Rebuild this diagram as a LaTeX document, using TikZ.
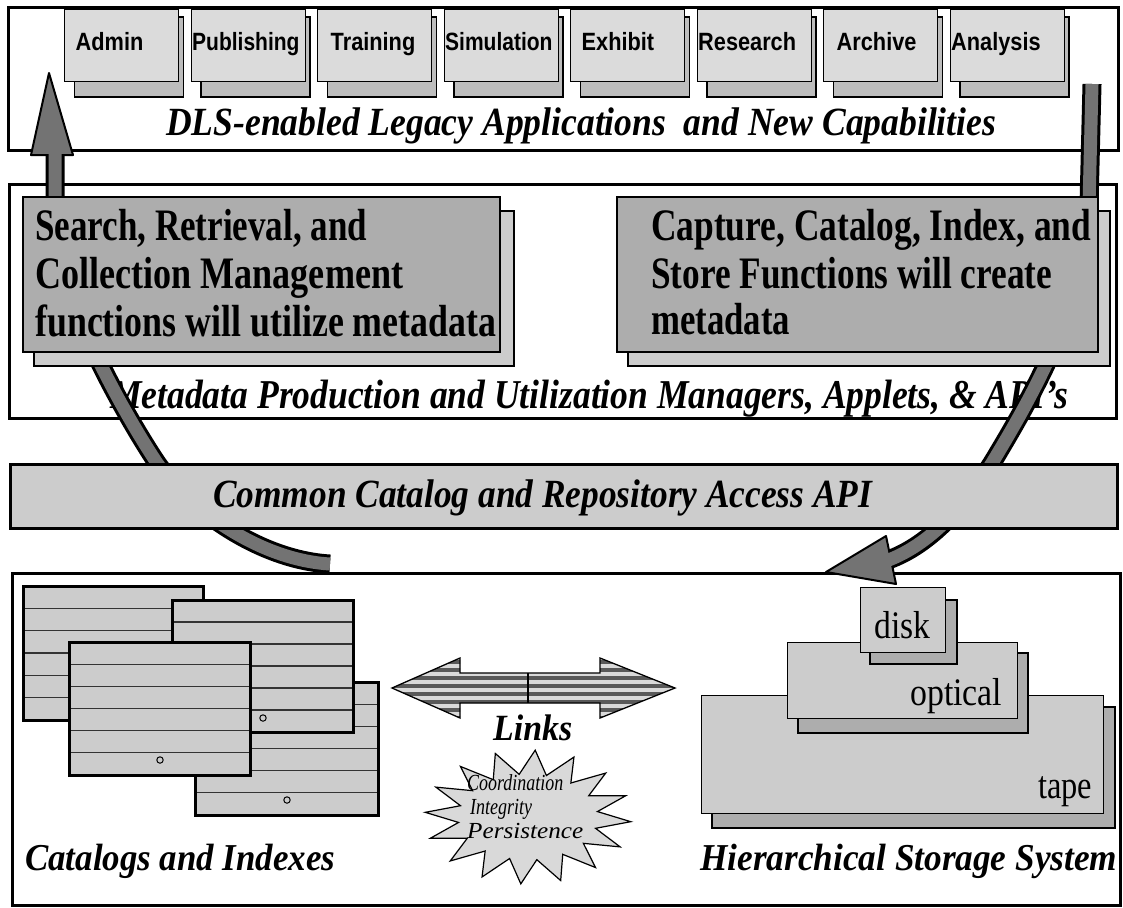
\documentclass[tikz,border=0pt]{standalone}
\usepackage{graphicx}
\usepackage{fontspec}
\setmainfont{Liberation Serif}
\newfontfamily\tabfont{Liberation Sans}
\usetikzlibrary{calc}

% stretch a piece of text to a given width, keeping its height
\newcommand\fitw[2]{\resizebox{#1}{\height}{#2}}
\newcommand\sx[2]{\scalebox{#1}[1]{#2}}

\definecolor{tabfill}{gray}{0.86}
\definecolor{tabshade}{gray}{0.74}
\definecolor{boxfill}{gray}{0.68}
\definecolor{boxshade}{gray}{0.80}
\definecolor{apifill}{gray}{0.80}
\definecolor{cardfill}{gray}{0.80}
\definecolor{storefill}{gray}{0.80}
\definecolor{storeshade}{gray}{0.68}
\definecolor{bandgray}{gray}{0.45}
\definecolor{burstfill}{gray}{0.85}
\definecolor{linklight}{gray}{0.85}
\definecolor{linkstripe}{gray}{0.35}

\begin{document}
\begin{tikzpicture}[x=1pt,y=-1pt,
  frame/.style={draw=black, line width=3pt},
  tabshadow/.style={draw=black, line width=1.8pt, fill=tabshade},
  tabfront/.style={draw=black, line width=1pt, fill=tabfill},
  tablabel/.style={anchor=base west, inner sep=0pt,
    font=\fontsize{25}{27}\selectfont\tabfont\bfseries},
  titletext/.style={anchor=base west, inner sep=0pt,
    font=\fontsize{40}{42}\selectfont\bfseries\itshape},
  boxtext/.style={anchor=base west, inner sep=0pt,
    font=\fontsize{45}{48}\selectfont\bfseries},
  mediatext/.style={anchor=base west, inner sep=0pt,
    font=\fontsize{39}{41}\selectfont},
  bursttext/.style={anchor=base west, inner sep=0pt,
    font=\fontsize{23}{24}\selectfont\itshape},
  funcshadow/.style={draw=black, line width=1.5pt, fill=boxshade},
  funcbox/.style={draw=black, line width=1.5pt, fill=boxfill},
  cardbox/.style={fill=cardfill},
  cardedge/.style={draw=black, line width=3pt},
  rowline/.style={draw=black!80, line width=1.2pt},
  storeshadow/.style={draw=black, line width=1.8pt, fill=storeshade},
  storebox/.style={draw=black, line width=1pt, fill=storefill},
]
\useasboundingbox (0,0) rectangle (1123,907);
\fill[white] (0,0) rectangle (1123,907);

% ---------- application layer ----------
\fill[white] (8,8) rectangle (1118,150);
\foreach \name/\lbl/\dx/\sc [count=\i from 0] in
  {admin/Admin/11/0.87, pub/Publishing/1/0.84, train/Training/13/0.87, sim/Simulation/1/0.84,
   exhibit/Exhibit/11/0.87, research/Research/1/0.87, archive/Archive/13/0.87, analysis/Analysis/1/0.87}
{
  \pgfmathsetmacro\L{64.5+126.5*\i}
  \path[tabshadow] (\L+10,17) rectangle (\L+119,97);
  \path[tabfront] (\L,9.5) rectangle (\L+114,81);
  \node[tablabel] (tab-\name) at (\L+\dx,51) {\sx{\sc}{\lbl}};
}
\draw[frame] (8,8) rectangle (1118,150);
\node[titletext] (apps-title)
  at (166,135) {\fitw{830pt}{DLS-enabled Legacy Applications\ \ and New Capabilities}};

% ---------- metadata managers layer ----------
\draw[frame, fill=white] (9,184) rectangle (1116,418);
\node[titletext, font=\fontsize{41}{44}\selectfont\bfseries\itshape] (meta-title) at (110,408)
  {\fitw{958pt}{Metadata Production and Utilization Managers, Applets, \& API's}};

% ---------- storage layer frame ----------
\draw[frame, fill=white] (12,573) rectangle (1120,905);

% ---------- flow arrows ----------
% upward flow on the left
\draw[black, line width=19pt]
  (330,564) .. controls (260,560) and (190,510) .. (157,463)
            .. controls (125,415) and (60,300) .. (55,230) -- (55,153);
\draw[black, line width=2pt, fill=bandgray, line join=round]
  (31,155) -- (49,73) -- (73,155) -- cycle;
\draw[bandgray, line width=13pt]
  (330,564) .. controls (260,560) and (190,510) .. (157,463)
            .. controls (125,415) and (60,300) .. (55,230) -- (55,150);

% downward flow on the right
\draw[black, line width=19pt]
  (1092,84) -- (1089,205) .. controls (1088,300) and (1030,400) .. (992,463)
            .. controls (965,505) and (930,545) .. (888,560);
\draw[black, line width=2pt, fill=bandgray, line join=round]
  (886,536) -- (826,572) -- (896,584) -- cycle;
\draw[bandgray, line width=13pt]
  (1092,84) -- (1089,205) .. controls (1088,300) and (1030,400) .. (992,463)
            .. controls (965,505) and (930,545) .. (886,561);

% ---------- function boxes ----------
\path[funcshadow] (34,211) rectangle (514,366);
\path[funcbox] (23,197) rectangle (500,352);
\node[boxtext] (search-1) at (35,240) {\fitw{332pt}{Search, Retrieval, and}};
\node[boxtext] (search-2) at (35,288) {\fitw{368pt}{Collection Management}};
\node[boxtext] (search-3) at (35,336) {\fitw{461pt}{functions will utilize metadata}};

\path[funcshadow] (628,211) rectangle (1110,366);
\path[funcbox] (617,197) rectangle (1098,352);
\node[boxtext] (capture-1) at (651,240) {\fitw{440pt}{Capture, Catalog, Index, and}};
\node[boxtext] (capture-2) at (651,288) {\fitw{401pt}{Store Functions will create}};
\node[boxtext] (capture-3) at (651,334) {\fitw{139pt}{metadata}};

% ---------- access API bar ----------
\draw[frame, fill=apifill] (10,464) rectangle (1117,528);
\node[titletext] (api-title) at (213,507)
  {\fitw{659pt}{Common Catalog and Repository Access API}};

% ---------- catalog cards ----------
\foreach \xa/\ya/\xb/\yb in
  {23/586/203/720, 195/682/378/815, 172/600/353/732, 69/642/250/775}
{
  \path[cardbox] (\xa,\ya) rectangle (\xb,\yb);
  \foreach \r in {1,...,5}
    \draw[rowline] (\xa,{\ya+\r*(\yb-\ya)/6}) -- (\xb,{\ya+\r*(\yb-\ya)/6});
  \draw[cardedge] (\xa,\ya) rectangle (\xb,\yb);
}
\foreach \cx/\cy in {160/760, 263/718, 287/800}
  \draw[black, line width=1pt, fill=gray!40] (\cx,\cy) circle[radius=3.2];
\node[titletext, font=\fontsize{38}{40}\selectfont\bfseries\itshape] (cat-title)
  at (25,870) {\fitw{310pt}{Catalogs and Indexes}};

% ---------- links between catalogs and storage ----------
\begin{scope}
  \clip (392,688) -- (460,658) -- (460,673) -- (600,673) -- (600,658) -- (675,688)
        -- (600,718) -- (600,703) -- (460,703) -- (460,718) -- cycle;
  \fill[linklight] (390,655) rectangle (680,720);
  \foreach \s in {662,670,...,718}
    \draw[linkstripe, line width=3.2pt] (390,\s) -- (680,\s);
\end{scope}
\draw[black, line width=1.3pt, line join=miter]
  (392,688) -- (460,658) -- (460,673) -- (600,673) -- (600,658) -- (675,688)
  -- (600,718) -- (600,703) -- (460,703) -- (460,718) -- cycle;
\draw[black, line width=1.3pt] (528,673) -- (528,703);
\node[titletext, font=\fontsize{37}{39}\selectfont\bfseries\itshape] (links)
  at (493,740) {\fitw{79pt}{Links}};

\draw[black, line width=1.2pt, fill=burstfill, line join=miter]
  plot[samples at={0,...,31}, variable=\k]
    ({528+ifthenelse(mod(\k,2)==0,103,70)*cos(\k*11.25+4)},
     {817+ifthenelse(mod(\k,2)==0,67,43)*sin(\k*11.25+4)}) -- cycle;
\node[bursttext] (burst-1) at (467,790) {\fitw{96pt}{Coordination}};
\node[bursttext] (burst-2) at (470,814) {\fitw{62pt}{Integrity}};
\node[bursttext] (burst-3) at (467,838) {\fitw{116pt}{Persistence}};

% ---------- hierarchical storage ----------
\path[storeshadow] (712,707) rectangle (1115,828);
\path[storebox] (701,695) rectangle (1103,813);
\path[storeshadow] (798,653) rectangle (1028,733);
\path[storebox] (787,642) rectangle (1017,718);
\path[storeshadow] (870,600) rectangle (957,664);
\path[storebox] (860,587) rectangle (945,652);
\node[mediatext] (disk) at (874,638) {\fitw{56pt}{disk}};
\node[mediatext] (optical) at (910,705) {\fitw{92pt}{optical}};
\node[mediatext] (tape) at (1038,798) {\fitw{54pt}{tape}};
\node[titletext, font=\fontsize{38}{40}\selectfont\bfseries\itshape] (hss-title)
  at (700,870) {\fitw{417pt}{Hierarchical Storage System}};
\end{tikzpicture}
\end{document}
